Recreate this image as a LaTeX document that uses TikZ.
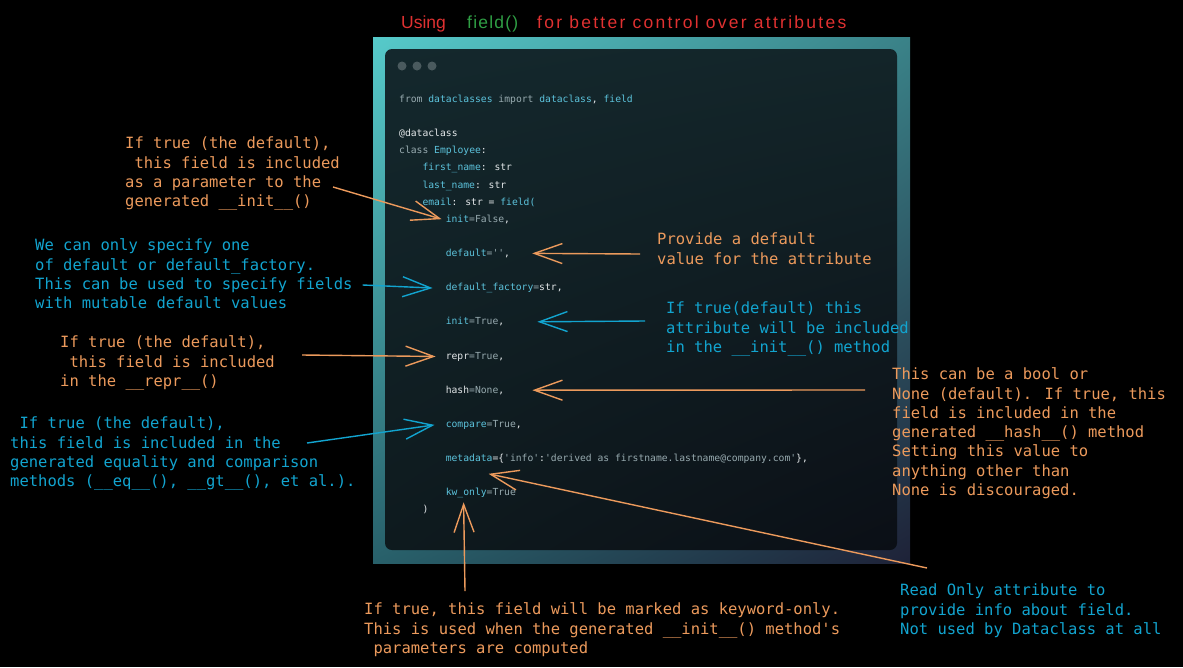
\documentclass[tikz,border=0pt]{standalone}
\usepackage{fontspec}
\setmainfont{Liberation Sans}
\setmonofont{DejaVu Sans Mono}
\newfontfamily\annfont{DejaVu Sans Mono}
\newfontfamily\ttlwide{Liberation Sans}[LetterSpace=13]
\newfontfamily\ttlmid{Liberation Sans}[LetterSpace=7]
\usepackage{xcolor}
\usetikzlibrary{arrows.meta,shadings}

\definecolor{orng}{HTML}{EC9A5C}
\definecolor{blu}{HTML}{12A4CF}
\definecolor{ttlred}{HTML}{E03131}
\definecolor{ttlgreen}{HTML}{2F9E44}
\definecolor{cblue}{HTML}{5CC3DC}
\definecolor{cgray}{HTML}{98ABB0}
\definecolor{cwhite}{HTML}{E4E8EA}
\definecolor{dotc}{HTML}{4A5A5E}
\definecolor{frTL}{HTML}{56CACA}
\definecolor{frTR}{HTML}{3A8288}
\definecolor{frBL}{HTML}{28606A}
\definecolor{frBR}{HTML}{1E2238}
\definecolor{winTL}{HTML}{14282D}
\definecolor{winTR}{HTML}{132529}
\definecolor{winBL}{HTML}{0E1A1E}
\definecolor{winBR}{HTML}{0B0F16}
\newcommand{\cb}[1]{\textcolor{cblue}{#1}}
\newcommand{\cg}[1]{\textcolor{cgray}{#1}}

\begin{document}
\begin{tikzpicture}[x=1pt,y=-1pt,
    code/.style={anchor=base west,inner sep=0pt,text=cwhite,
        font=\ttfamily\fontsize{9.7}{12}\selectfont},
    note/.style={anchor=north west,inner sep=0pt,align=left,
        font=\annfont\fontsize{15.5}{19.3}\selectfont},
    onote/.style={note,text=orng},
    bnote/.style={note,text=blu},
    title/.style={anchor=base west,inner sep=0pt,font=\fontsize{17.5}{20}\selectfont},
    oarrow/.style={draw=orng,line width=1.4pt,-{Straight Barb[length=28pt,width=20pt]}},
    barrow/.style={draw=blu,line width=1.4pt,-{Straight Barb[length=28pt,width=20pt]}}
    ]
    \fill[black] (0,0) rectangle (1183,667);
    \useasboundingbox (0,0) rectangle (1183,667);

    % title
    \node[title,text=ttlred] (tUsing) at (401,28) {Using};
    \node[title,text=ttlgreen] (tField) at (467,28) {\ttlmid field()};
    \node[title,text=ttlred] (tRest) at (537,28) {\ttlwide for better control over attributes};

    % window
    \shade[upper left=frTL,upper right=frTR,lower left=frBL,lower right=frBR]
        (373,37) rectangle (910,563);
    \shade[rounded corners=7pt,upper left=winTL,upper right=winTR,
        lower left=winBL,lower right=winBR]
        (385,49) rectangle (897,550);
    \foreach \x in {402,417,432}
        \fill[dotc] (\x,66) circle (4.5pt);

    % code lines
    \node[code] (cFrom) at (399,102.5) {\cg{from} \cb{dataclasses} \cg{import} \cb{dataclass}, \cb{field}};
    \node[code] (cDeco) at (399,136.7) {@dataclass};
    \node[code] (cClass) at (399,153.8) {\cg{class} \cb{Employee}:};
    \node[code] (cFirst) at (422.3,170.9) {\cb{first\_name}: str};
    \node[code] (cLast) at (422.3,188.0) {\cb{last\_name}: str};
    \node[code] (cEmail) at (422.3,205.1) {\cb{email}: str = \cb{field(}};
    \node[code] (cInitF) at (445.6,222.2) {\cb{init}\cg{=False},};
    \node[code] (cDefault) at (445.6,256.4) {\cb{default}\cg{=''},};
    \node[code] (cFactory) at (445.6,290.6) {\cb{default\_factory}\cg{=}str,};
    \node[code] (cInitT) at (445.6,324.8) {\cb{init}\cg{=True},};
    \node[code] (cRepr) at (445.6,359.0) {repr\cg{=True},};
    \node[code] (cHash) at (445.6,393.2) {hash\cg{=None},};
    \node[code] (cCompare) at (445.6,427.4) {\cb{compare}\cg{=True},};
    \node[code] (cMeta) at (445.6,461.6) {\cb{metadata}=\{\cg{'info'}:\cg{'derived as firstname.lastname@company.com'}\},};
    \node[code] (cKw) at (445.6,495.8) {\cb{kw\_only}\cg{=True}};
    \node[code] (cClose) at (422.3,512.9) {)};

    % notes
    \node[onote] (nInit) at (125,135) {\strut If true (the default),\\ \hphantom{x}this field is included\\ as a parameter to the\\ generated \_\_init\_\_()};
    \node[bnote] (nFactory) at (35,237) {\strut We can only specify one\\ of default or default\_factory.\\ This can be used to specify fields\\ with mutable default values};
    \node[onote] (nRepr) at (60,334) {\strut If true (the default),\\ \hphantom{x}this field is included\\ in the \_\_repr\_\_()};
    \node[bnote] (nCompare) at (10,415) {\strut\hphantom{x}If true (the default),\\ this field is included in the\\ generated equality and comparison\\ methods (\_\_eq\_\_(), \_\_gt\_\_(), et al.).};
    \node[onote] (nDefault) at (657,231) {\strut Provide a default\\ value for the attribute};
    \node[bnote] (nInitT) at (666,300) {\strut If true(default) this\\ attribute will be included\\ in the \_\_init\_\_() method};
    \node[onote] (nHash) at (892,366) {\strut This can be a bool or\\ None (default). If true, this\\ field is included in the\\ generated \_\_hash\_\_() method\\ Setting this value to\\ anything other than\\ None is discouraged.};
    \node[bnote] (nMeta) at (900,582) {\strut Read Only attribute to\\ provide info about field.\\ Not used by Dataclass at all};
    \node[onote] (nKw) at (364,601) {\strut If true, this field will be marked as keyword-only.\\ This is used when the generated \_\_init\_\_() method's\\ \hphantom{x}parameters are computed};

    % arrows
    \draw[oarrow] ([xshift=-7pt,yshift=-52pt]nInit.north east) -- ([xshift=-4pt]cInitF.west);
    \draw[oarrow] ([xshift=-17pt,yshift=-23pt]nDefault.north west) -- ([xshift=22pt]cDefault.east);
    \draw[barrow] ([xshift=10pt,yshift=-48pt]nFactory.north east) -- ([xshift=-13pt]cFactory.west);
    \draw[barrow] ([xshift=-21pt,yshift=-21pt]nInitT.north west) -- ([xshift=33pt]cInitT.east);
    \draw[oarrow] ([xshift=27pt,yshift=-21pt]nRepr.north east) -- ([xshift=-10pt]cRepr.west);
    \draw[oarrow] ([xshift=-27pt,yshift=-24pt]nHash.north west) -- ([xshift=28pt]cHash.east);
    \draw[barrow] ([xshift=297pt,yshift=-28pt]nCompare.north west) -- ([xshift=-11pt]cCompare.west);
    \draw[oarrow] ([xshift=27pt,yshift=14pt]nMeta.north west) -- ([xshift=43pt,yshift=-10pt]cMeta.south west);
    \draw[oarrow] ([xshift=101pt,yshift=10pt]nKw.north west) -- ([xshift=18pt,yshift=-4pt]cKw.south west);
\end{tikzpicture}
\end{document}
